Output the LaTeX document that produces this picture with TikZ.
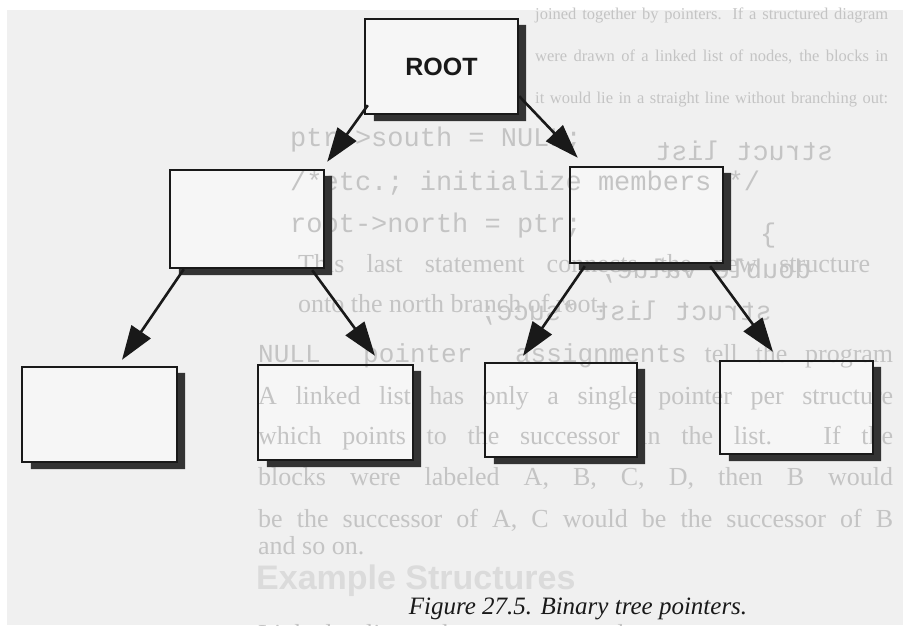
\documentclass[tikz,border=0pt]{standalone}
\usepackage{fontspec}
\usepackage{graphicx}
\setmainfont{Liberation Serif}
\newfontfamily\monof{Liberation Mono}
\newfontfamily\sansf{Liberation Sans}
\usetikzlibrary{arrows.meta,calc}
\definecolor{pagebg}{gray}{0.94}
\definecolor{boxbg}{gray}{0.965}
\definecolor{ghost}{gray}{0.77}
\definecolor{ghostlight}{gray}{0.86}
\definecolor{ink}{gray}{0.1}
\definecolor{shade}{gray}{0.2}
\begin{document}
\begin{tikzpicture}[x=1pt,y=-1pt,
  boxfill/.style={rectangle, fill=boxbg, inner sep=0pt},
  ghosttext/.style={text=ghost, anchor=base west, inner sep=0pt, font=\fontsize{26}{30}\selectfont},
  ghostsmall/.style={text=ghost, anchor=base west, inner sep=0pt, font=\fontsize{16.5}{20}\selectfont},
  ghostmono/.style={text=ghost, anchor=base west, inner sep=0pt, font=\monof\fontsize{27}{30}\selectfont},
  border/.style={draw=ink, line width=2pt},
  shadowbar/.style={fill=shade, even odd rule},
  pointer/.style={draw=ink, line width=2.6pt, -{Triangle[length=34pt,width=23pt]}},
]
\useasboundingbox (0,0) rectangle (903,625);
\clip (0,0) rectangle (903,625);
\fill[white] (0,0) rectangle (903,625);
\fill[pagebg] (7,10) rectangle (903,625);

% box interiors (named nodes)
\node[boxfill, minimum width=153pt, minimum height=95pt] (root) at (441.5,66.5) {};
\node[boxfill, minimum width=154pt, minimum height=98pt] (lm) at (247,219) {};
\node[boxfill, minimum width=153pt, minimum height=96pt] (rm) at (646.5,215) {};
\node[boxfill, minimum width=155pt, minimum height=95pt] (b1) at (99.5,414.5) {};
\node[boxfill, minimum width=155pt, minimum height=95pt] (b2) at (335.5,412.5) {};
\node[boxfill, minimum width=152pt, minimum height=94pt] (b3) at (561,410) {};
\node[boxfill, minimum width=153pt, minimum height=93pt] (b4) at (796.5,407.5) {};

% show-through text of the scanned page
\node[ghostsmall] (g1) at (535,19) {\makebox[353pt][s]{joined together by pointers. If a structured diagram}};
\node[ghostsmall] (g2) at (535,61) {\makebox[353pt][s]{were drawn of a linked list of nodes, the blocks in}};
\node[ghostsmall] (g3) at (535,103) {\makebox[353pt][s]{it would lie in a straight line without branching out:}};
\node[ghostmono] (g4) at (290,146) {ptr->south = NULL;};
\node[ghostmono] (g5) at (290,190) {/*etc.; initialize members */};
\node[ghostmono] (g6) at (290,232) {root->north = ptr;};
\node[ghosttext] (g7) at (298,272) {\makebox[572pt][s]{This last statement connects the new structure}};
\node[ghosttext] (g8) at (298,312) {onto the north branch of root.};
\node[ghosttext] (g9) at (258,362) {\makebox[635pt][s]{{\monof NULL pointer assignments} tell the program}};
\node[ghosttext] (g10) at (258,404) {\makebox[635pt][s]{A linked list has only a single pointer per structure}};
\node[ghosttext] (g11) at (258,444) {\makebox[635pt][s]{which points to the successor in the list. If the}};
\node[ghosttext] (g12) at (258,485) {\makebox[635pt][s]{blocks were labeled A, B, C, D, then B would}};
\node[ghosttext] (g13) at (258,527) {\makebox[635pt][s]{be the successor of A, C would be the successor of B}};
\node[ghosttext] (g14) at (258,554) {and so on.};
\node[text=ghostlight, anchor=base west, inner sep=0pt, font=\sansf\bfseries\fontsize{34}{38}\selectfont] (g15) at (256,589) {Example Structures};
\node[ghosttext] (g16) at (258,642) {\makebox[635pt][s]{Linked lists have two advantages over arrays}};
% mirrored text from the reverse side
\node[ghostmono] (m1) at (655,160) {\scalebox{-1}[1]{struct list}};
\node[ghostmono] (m2) at (760,242) {\scalebox{-1}[1]{\}}};
\node[ghostmono] (m3) at (600,278) {\scalebox{-1}[1]{double value;}};
\node[ghostmono] (m4) at (480,320) {\scalebox{-1}[1]{struct list *succ;}};

% shadows
\foreach \b in {root,lm,rm,b1,b2,b3,b4}{
  \path[shadowbar] ($(\b.north east)+(0,6)$) -| ($(\b.south east)+(8,7)$) -| ($(\b.south west)+(9,0)$) -- ($(\b.south east)$) -- ($(\b.north east)+(0,6)$) -- cycle;
}
% box borders
\foreach \b in {root,lm,rm,b1,b2,b3,b4}{
  \draw[border] (\b.north west) rectangle (\b.south east);
}

% label
\node[font=\sansf\bfseries\fontsize{25}{28}\selectfont, text=ink, inner sep=0pt] (rootlabel) at (root.center) {ROOT};

% pointers
\draw[pointer] ($(root.south west)+(3,-9)$) -- ($(lm.north east)+(3,-8)$);
\draw[pointer] ($(root.south east)+(1,-18)$) -- ($(rm.north west)+(8,-9)$);
\draw[pointer] ($(lm.south west)+(14,1)$) -- ($(b1.north)+(22.5,-7)$);
\draw[pointer] ($(lm.south east)+(-12,2)$) -- ($(b2.north)+(39.5,-9)$);
\draw[pointer] ($(rm.south west)+(15,3)$) -- ($(b3.north)+(-38,-7)$);
\draw[pointer] ($(rm.south east)+(-13,3)$) -- ($(b4.north)+(-23.5,-9)$);

% caption
\node[font=\itshape\fontsize{25}{28}\selectfont, text=ink, inner sep=0pt] (caption) at (578,609) {Figure 27.5. Binary tree pointers.};
\end{tikzpicture}
\end{document}
